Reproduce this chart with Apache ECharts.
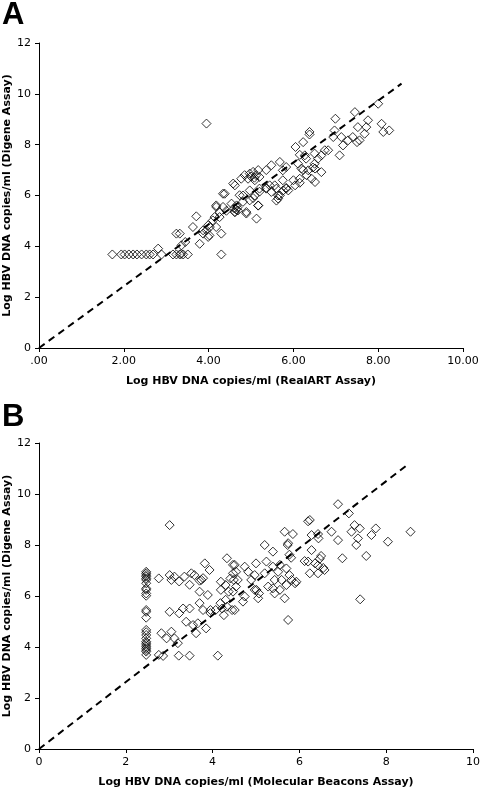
<!DOCTYPE html>
<html><head><meta charset="utf-8">
<script src="https://cdn.jsdelivr.net/npm/echarts@6/dist/echarts.min.js"></script>
<style>html,body{margin:0;padding:0;background:#fff}#c{width:480px;height:790px}</style>
</head><body><div id="c"></div>
<script>
// Panel A: RealART (x) vs Digene (y)
var pointsA = [
[1.73,3.68],[1.94,3.68],[2.02,3.68],[2.12,3.68],[2.22,3.68],[2.31,3.68],[2.42,3.68],[2.53,3.68],[2.61,3.68],[2.69,3.68],
[2.89,3.68],[3.16,3.68],[3.24,3.68],[3.32,3.68],[3.35,3.7],[3.4,3.68],[3.51,3.68],[4.30,3.68],
[2.81,3.91],[3.24,4.5],[3.32,4.5],[3.36,4.04],[3.45,4.17],[3.63,4.76],[3.71,5.18],[3.79,4.1],[3.87,4.5],[3.95,4.63],
[4.03,4.76],[3.99,4.37],[4.14,5.15],[4.18,5.55],[4.26,5.35],[4.18,4.76],[4.34,6.07],[4.3,4.5],[4.42,5.4],[4.6,5.5],
[4.65,5.45],[4.68,5.52],[4.62,5.35],[4.89,5.29],[4.62,6.4],[4.81,6.0],[5.13,5.09],[5.17,5.6],[5.05,5.9],[5.2,6.15],
[5.36,6.3],[5.6,5.8],[5.64,6.0],[5.76,6.2],[5.83,6.3],[6.15,6.5],
[6.05,7.91],[6.23,8.1],[6.5,7.65],[6.27,7.58],[5.48,7.19],[5.68,7.32],[5.75,6.99],[5.83,7.12],[6.11,7.25],[6.19,7.06],
[6.35,6.99],[6.51,7.06],[6.15,6.66],[6.31,6.8],[6.43,6.66],[6.51,6.53],[4.97,6.86],[5.05,6.93],[5.12,6.8],[5.2,6.73],
[4.93,6.66],[4.85,6.8],[4.77,6.66],[5.09,6.6],[5.17,7.0],[5.36,7.0],[5.0,6.75],[5.08,6.7],[4.58,6.47],[4.38,6.07],
[4.73,6.01],[4.97,6.2],[5.09,6.0],[5.2,6.27],[5.36,6.27],[5.48,6.14],[5.6,6.27],[5.68,6.0],[5.83,6.27],[5.75,6.6],
[5.44,6.4],[5.56,6.4],[5.64,5.88],[5.88,6.2],[6.0,6.6],[6.04,6.4],[4.18,5.61],[4.34,5.55],[4.54,5.68],[4.66,5.61],
[4.69,5.41],[4.62,5.35],[4.89,5.35],[4.81,5.75],[4.97,5.81],[5.17,5.61],[3.99,4.83],[4.1,5.02],[4.26,5.15],[3.87,4.63],
[4.02,4.43],
[8.0,9.61],[7.45,9.28],[6.99,9.02],[6.38,8.5],[6.38,8.4],[6.97,8.56],[6.94,8.3],[7.52,8.69],[7.76,8.96],[7.72,8.69],
[7.68,8.43],[8.08,8.82],[8.12,8.5],[8.26,8.56],[7.13,8.3],[7.17,7.97],[7.29,8.17],[7.4,8.3],[7.56,8.17],[7.5,8.1],
[7.09,7.58],[6.74,7.78],[6.82,7.78],[6.66,7.58],[6.58,7.45],[6.5,7.25],[6.66,6.92],[6.46,7.1],[6.3,7.45],[6.15,7.6],
[6.23,7.0],[3.95,8.83]
];
var lineA = [[0,0],[8.55,10.4]];

// Panel B: Molecular Beacons (x) vs Digene (y)
var pointsB = [
[2.47,6.95],[2.47,6.89],[2.47,6.82],[2.47,6.76],[2.47,6.69],[2.47,6.63],[2.47,6.5],[2.47,6.3],[2.47,6.24],[2.47,6.1],
[2.47,6.01],[2.47,5.45],[2.47,5.38],[2.47,5.15],[2.47,4.67],[2.47,4.58],[2.47,4.47],[2.47,4.34],[2.47,4.21],[2.47,4.15],
[2.47,4.08],[2.47,4.01],[2.47,3.95],[2.47,3.88],[2.47,3.82],[2.47,3.69],
[3.01,8.78],
[2.76,6.69],[3.01,6.82],[3.05,6.63],[3.12,6.76],[3.23,6.57],[3.35,6.76],[3.51,6.89],[3.58,6.82],[3.47,6.44],[3.74,6.63],
[3.78,6.7],[3.82,7.28],[3.93,7.02],[4.33,7.48],[4.47,7.22],[4.54,6.95],[4.19,6.56],[4.3,6.43],[4.41,6.69],[4.49,6.63],
[4.19,6.24],[4.37,6.17],[4.54,6.37],[3.7,6.17],[3.89,6.04],[3.7,5.72],[3.78,5.45],[3.47,5.51],[3.32,5.51],[3.23,5.32],
[3.01,5.38],[3.95,5.45],[4.07,5.45],[4.22,5.51],[4.33,5.58],[4.18,5.72],[4.3,5.85],[4.26,5.25],[4.45,5.45],[3.39,4.99],
[3.55,4.86],[3.66,4.93],[3.85,4.73],[3.62,4.54],[2.82,4.54],[3.05,4.6],[2.94,4.34],[3.12,4.34],[3.2,4.15],[2.76,3.69],
[2.86,3.65],[3.22,3.66],[3.47,3.66],[4.12,3.66],
[5.66,8.52],[5.85,8.43],[6.28,8.39],[6.43,8.43],[5.2,8.0],[5.39,7.74],[5.73,8.0],[5.77,7.62],[5.81,7.5],[6.28,7.8],
[6.47,7.46],[6.36,7.28],[6.2,7.35],[6.24,6.89],[6.43,6.89],[6.58,7.02],[5.24,7.35],[5.39,7.15],[5.55,7.22],[5.7,7.08],
[5.77,6.82],[5.51,6.95],[5.2,6.89],[5.0,7.28],[4.74,7.15],[4.51,7.22],[4.47,6.89],[4.58,6.63],[4.82,6.95],[4.97,6.82],
[4.89,6.63],[5.28,6.37],[5.43,6.63],[5.59,6.63],[5.7,6.43],[5.82,6.63],[5.93,6.56],[5.39,6.3],[5.55,6.24],[5.43,6.1],
[4.97,6.24],[5.05,5.91],[4.74,5.98],[4.7,5.78],[4.47,6.17],[4.51,5.45],[5.66,5.91],[5.74,5.06],[5.01,6.24],[5.07,6.1],
[7.14,9.24],[7.27,8.78],[7.39,8.65],[7.2,8.52],[7.35,8.26],[7.31,8.0],[7.76,8.65],[7.66,8.39],[8.04,8.13],[8.56,8.52],
[6.74,8.52],[6.89,8.19],[6.44,8.26],[6.99,7.48],[7.54,7.57],[7.4,5.87],[6.5,7.57],[6.55,7.1],[6.43,7.2],
[6.89,9.6],[6.24,8.98],[6.2,8.93],[5.74,8.07],[6.12,7.37],[5.9,6.5],[3.7,6.6],[3.95,5.33]
];
var lineB = [[0,0],[8.53,11.2]];

var xTickLabelsA = ['.00','2.00','4.00','6.00','8.00','10.00'];
var xTitleA = 'Log HBV DNA copies/ml (RealART Assay)';
var xTitleB = 'Log HBV DNA copies/ml (Molecular Beacons Assay)';
var yTitle = 'Log HBV DNA copies/ml (Digene Assay)';

var FONT = 'DejaVu Sans';
function axisCommon(){
  return {
    axisLine:{show:true,onZero:false,lineStyle:{color:'#000',width:1}},
    axisTick:{show:true,inside:false,length:4,lineStyle:{color:'#000'}},
    splitLine:{show:false},
    nameMoveOverlap:false,
    axisLabel:{color:'#000',fontFamily:FONT,fontSize:11},
    nameTextStyle:{color:'#000',fontFamily:FONT,fontSize:11,fontWeight:'bold'}
  };
}
function mk(extra){ var o=axisCommon(); for(var k in extra){ if(typeof extra[k]==='object' && o[k] && !Array.isArray(extra[k])){ for(var j in extra[k]) o[k][j]=extra[k][j]; } else o[k]=extra[k]; } return o; }

var scatterStyle = {color:'rgba(0,0,0,0)',borderColor:'#000',borderWidth:1};
var chart = echarts.init(document.getElementById('c'),null,{renderer:'canvas'});
chart.setOption({
  animation:false,
  backgroundColor:'#fff',
  grid:[
    {left:39,top:43,width:424,height:305,containLabel:false,outerBoundsMode:'none'},
    {left:39,top:443,width:434,height:306,containLabel:false,outerBoundsMode:'none'}
  ],
  xAxis:[
    mk({type:'value',gridIndex:0,min:0,max:10,interval:2,name:xTitleA,nameLocation:'middle',nameGap:28,
      axisLabel:{margin:8,formatter:function(v){return xTickLabelsA[Math.round(v/2)];}}}),
    mk({type:'value',gridIndex:1,min:0,max:10,interval:2,name:xTitleB,nameLocation:'middle',nameGap:28,
      axisLabel:{margin:8}})
  ],
  yAxis:[
    mk({type:'value',gridIndex:0,min:0,max:12,interval:2,name:yTitle,nameLocation:'middle',nameGap:26,axisLabel:{margin:8}}),
    mk({type:'value',gridIndex:1,min:0,max:12,interval:2,name:yTitle,nameLocation:'middle',nameGap:26,axisLabel:{margin:8}})
  ],
  graphic:[
    {type:'text',left:2,top:0,style:{text:'A',font:'bold 31px "Liberation Sans"',fill:'#000'}},
    {type:'text',left:2,top:402,style:{text:'B',font:'bold 31px "Liberation Sans"',fill:'#000'}}
  ],
  series:[
    {type:'line',xAxisIndex:0,yAxisIndex:0,data:lineA,symbol:'none',z:1,
      lineStyle:{color:'#000',width:2,type:[7,5]}},
    {type:'scatter',xAxisIndex:0,yAxisIndex:0,data:pointsA,symbol:'diamond',symbolSize:9,itemStyle:scatterStyle,z:2},
    {type:'line',xAxisIndex:1,yAxisIndex:1,data:lineB,symbol:'none',z:1,
      lineStyle:{color:'#000',width:2,type:[7,5]}},
    {type:'scatter',xAxisIndex:1,yAxisIndex:1,data:pointsB,symbol:'diamond',symbolSize:9,itemStyle:scatterStyle,z:2}
  ]
});
</script></body></html>
